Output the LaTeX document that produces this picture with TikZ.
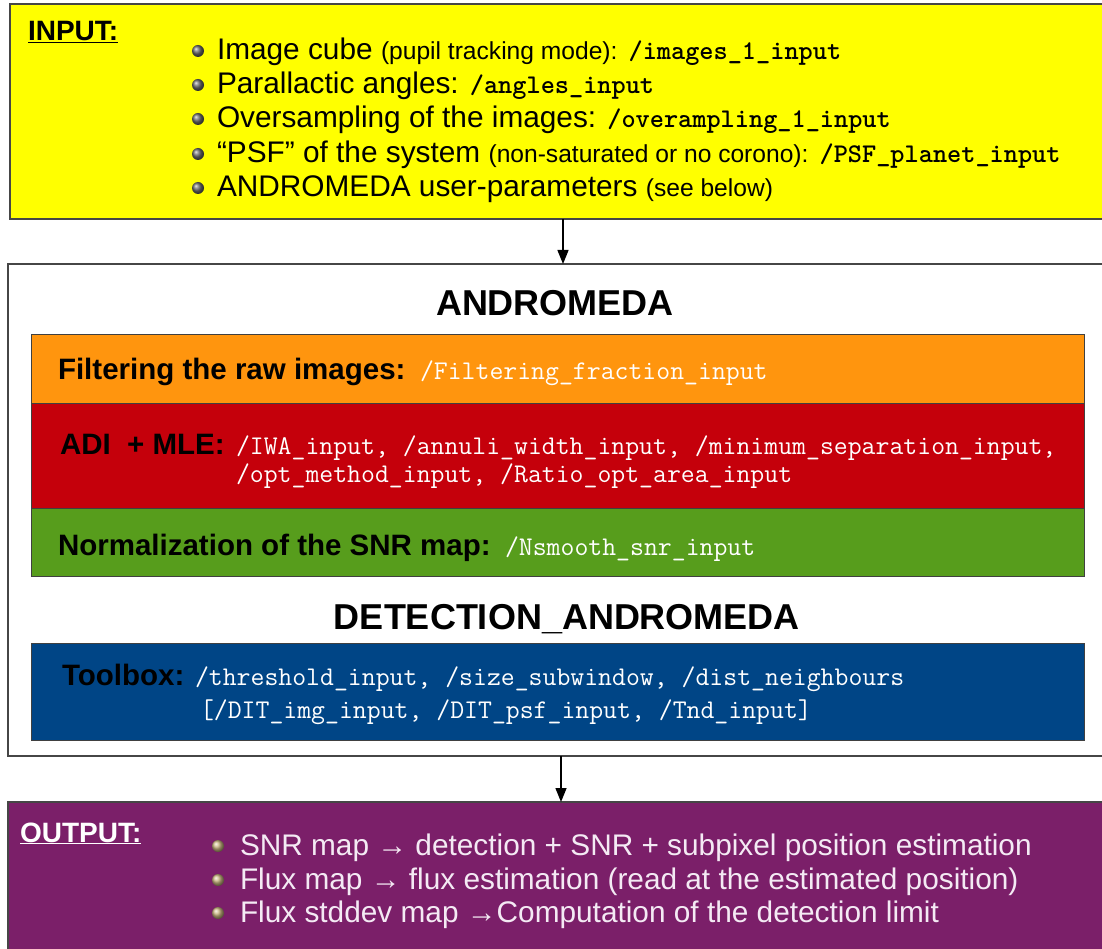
\documentclass[tikz,border=0pt]{standalone}
\usepackage{fontspec}
\setmainfont{Liberation Sans}
\usetikzlibrary{arrows.meta,shadings}
\definecolor{cyellow}{RGB}{255,255,0}
\definecolor{corange}{RGB}{255,149,14}
\definecolor{cred}{RGB}{197,0,11}
\definecolor{cgreen}{RGB}{87,157,28}
\definecolor{cblue}{RGB}{0,69,134}
\definecolor{cpurple}{RGB}{123,31,105}
\definecolor{cborder}{RGB}{70,70,70}
\definecolor{clight}{RGB}{244,234,244}
\definecolor{cballin}{RGB}{105,105,105}
\definecolor{cballout}{RGB}{205,185,130}
\tikzset{
  box/.style={rectangle, draw=cborder, line width=1.5pt, inner sep=0pt, outer sep=0pt, anchor=north west},
  inner/.style={rectangle, draw=black!75, line width=1pt, inner sep=0pt, outer sep=0pt, anchor=north west, minimum width=1053pt},
  txt/.style={inner sep=0pt, outer sep=0pt, anchor=base west},
  flow/.style={line width=1.4pt, -{Triangle[width=11pt,length=14pt]}},
  main/.style={font=\fontsize{29.8}{34}\selectfont},
  lbl/.style={font=\fontsize{29.5}{34}\selectfont\bfseries},
  head/.style={font=\fontsize{36}{40}\selectfont\bfseries},
  mono/.style={font=\fontsize{27}{30}\selectfont\ttfamily, text=white},
}
\newcommand{\sm}[1]{{\fontsize{24.6}{28}\selectfont #1}}
\newcommand{\mb}[1]{{\fontsize{27}{30}\selectfont\ttfamily\bfseries #1}}
\begin{document}
\begin{tikzpicture}[x=1pt,y=-1pt]
\useasboundingbox (0,0) rectangle (1102,949);
\clip (0,0) rectangle (1102,949);
\fill[white] (0,0) rectangle (1102,949);

% boxes
\node[box, fill=cyellow, minimum width=1106pt, minimum height=215pt] (input) at (10,4) {};
\node[box, fill=white, minimum width=1106pt, minimum height=492pt] (andromeda) at (8,264) {};
\node[inner, fill=corange, minimum height=69pt] (filter) at (31,334) {};
\node[inner, fill=cred, minimum height=105pt] (adi) at (31,403) {};
\node[inner, fill=cgreen, minimum height=68pt] (norm) at (31,508) {};
\node[inner, fill=cblue, minimum height=97pt] (toolbox) at (31,643) {};
\node[box, fill=cpurple, minimum width=1106pt, minimum height=170pt] (output) at (8,802) {};

% connectors
\draw[flow] (input.south) -- (input.south |- andromeda.north);
\draw[flow] (andromeda.south) -- (output.north);

% INPUT
\node[txt, font=\fontsize{28}{32}\selectfont\bfseries] (inlbl) at (28,41) {\underline{INPUT:}};
\foreach \y in {60,94,128,163,197} {
  \shade[ball color=cballin] (198,\y-9) circle (6pt);
}
\node[txt, main] (i1) at (217,60) {Image cube \sm{(pupil tracking mode):} \mb{/images\_1\_input}};
\node[txt, main] (i2) at (217,94) {Parallactic angles: \mb{/angles\_input}};
\node[txt, main] (i3) at (217,128) {Oversampling of the images: \mb{/overampling\_1\_input}};
\node[txt, main] (i4) at (217,163) {“PSF” of the system \sm{(non-saturated or no corono):} \mb{/PSF\_planet\_input}};
\node[txt, main] (i5) at (217,197) {ANDROMEDA user-parameters \sm{(see below)}};

% ANDROMEDA
\node[head, inner sep=0pt, anchor=base] (t1) at (555,316) {ANDROMEDA};
\node[txt, lbl] (fl) at (58,379) {Filtering the raw images:};
\node[txt, mono] (fm) at (420,379) {/Filtering\_fraction\_input};
\node[txt, lbl] (al) at (60,454) {ADI\ \ + MLE:};
\node[txt, mono] (am1) at (236,454) {/IWA\_input, /annuli\_width\_input, /minimum\_separation\_input,};
\node[txt, mono] (am2) at (236,482) {/opt\_method\_input, /Ratio\_opt\_area\_input};
\node[txt, lbl] (nl) at (58,555) {Normalization of the SNR map:};
\node[txt, mono] (nm) at (505,555) {/Nsmooth\_snr\_input};

% DETECTION
\node[head, inner sep=0pt, anchor=base] (t2) at (567,629) {DETECTION\_ANDROMEDA};
\node[txt, lbl] (tl) at (62,685) {Toolbox:};
\node[txt, mono] (tm1) at (195,685) {/threshold\_input, /size\_subwindow, /dist\_neighbours};
\node[txt, mono] (tm2) at (200,718) {[/DIT\_img\_input, /DIT\_psf\_input, /Tnd\_input]};

% OUTPUT
\node[txt, font=\fontsize{28}{32}\selectfont\bfseries, text=white] (outlbl) at (20,842) {\underline{OUTPUT:}};
\foreach \y in {855,889,922} {
  \shade[ball color=cballout] (218,\y-9) circle (6pt);
}
\node[txt, main, text=clight] (o1) at (240,855) {SNR map → detection + SNR + subpixel position estimation};
\node[txt, main, text=clight] (o2) at (240,889) {Flux map → flux estimation (read at the estimated position)};
\node[txt, main, text=clight] (o3) at (240,922) {Flux stddev map →Computation of the detection limit};
\end{tikzpicture}
\end{document}
